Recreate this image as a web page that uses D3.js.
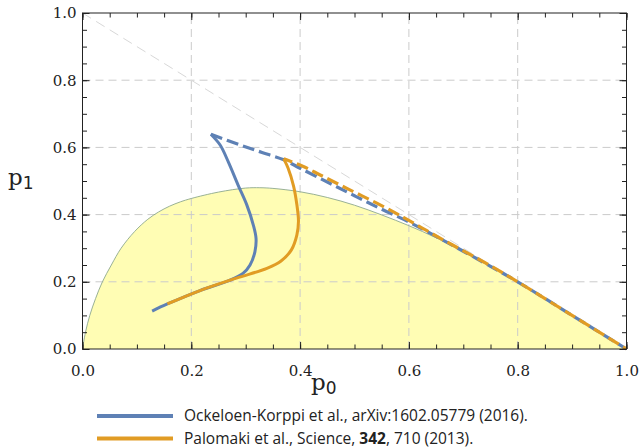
<!DOCTYPE html>
<html><head><meta charset="utf-8">
<script src="https://cdn.jsdelivr.net/npm/d3@7"></script>
<style>body{margin:0;background:#fff}svg{display:block}</style>
</head><body>
<svg id="c" width="642" height="448"></svg>
<script>
// ---- data ----
const xTicks = [0, 0.2, 0.4, 0.6, 0.8, 1.0];
const yTicks = [0, 0.2, 0.4, 0.6, 0.8, 1.0];
const gridVals = [0.2, 0.4, 0.6, 0.8];
// boundary of shaded (yellow) region
const boundaryP0 = [0, 0.0055, 0.0134, 0.024, 0.0366, 0.053, 0.071, 0.096, 0.12, 0.14, 0.16, 0.18, 0.2, 0.25, 0.3, 0.326, 0.35, 0.4, 0.45, 0.5, 0.55, 0.6, 0.65, 0.7, 0.75, 0.8, 0.9, 1.0];
const boundaryP1 = [0, 0.05, 0.1, 0.15, 0.2, 0.25, 0.3, 0.35, 0.386, 0.408, 0.425, 0.438, 0.448, 0.467, 0.479, 0.48, 0.478, 0.468, 0.451, 0.428, 0.399, 0.367, 0.331, 0.289, 0.245, 0.2, 0.1, 0];
// diagonal p0 + p1 = 1
const diagP0 = [0, 1];
const diagP1 = [1, 0];
// Ockeloen-Korppi et al. (blue)
const blueSolidP0 = [0.128, 0.156, 0.216, 0.27, 0.295, 0.308, 0.317, 0.319, 0.314, 0.302, 0.286, 0.268, 0.253, 0.236];
const blueSolidP1 = [0.113, 0.134, 0.174, 0.204, 0.225, 0.25, 0.29, 0.329, 0.369, 0.429, 0.488, 0.557, 0.607, 0.639];
const blueDashP0 = [0.236, 0.29, 0.33, 0.37, 0.4, 0.45, 0.5, 0.55, 0.6, 0.65, 0.7, 0.75, 0.8, 0.9, 1.0];
const blueDashP1 = [0.639, 0.607, 0.585, 0.563, 0.538, 0.497, 0.456, 0.416, 0.378, 0.335, 0.291, 0.246, 0.2, 0.1, 0];
// Palomaki et al. (orange)
const orangeSolidP0 = [0.156, 0.216, 0.283, 0.339, 0.365, 0.384, 0.394, 0.397, 0.394, 0.388, 0.378, 0.370];
const orangeSolidP1 = [0.134, 0.174, 0.211, 0.240, 0.262, 0.295, 0.339, 0.38, 0.43, 0.485, 0.538, 0.566];
const orangeDashP0 = [0.370, 0.406, 0.437, 0.486, 0.541, 0.590, 0.633, 0.682, 0.75, 0.8, 0.9, 1.0];
const orangeDashP1 = [0.566, 0.543, 0.518, 0.478, 0.434, 0.392, 0.352, 0.308, 0.248, 0.2, 0.1, 0];
const legendLabels = ["Ockeloen-Korppi et al., arXiv:1602.05779 (2016).", "Palomaki et al., Science, |342|, 710 (2013)."];

// ---- drawing ----
const blue = "#5e81b5", orange = "#e19c24";
const svg = d3.select("#c");
const L = 82.5, R = 626.5, T = 13, B = 349;
const x = d3.scaleLinear([0, 1], [L, R]);
const y = d3.scaleLinear([0, 1], [B, T]);
const zip = (a, b) => a.map((v, i) => [v, b[i]]);
const line = d3.line().x(d => x(d[0])).y(d => y(d[1]));
const smooth = d3.line().x(d => x(d[0])).y(d => y(d[1])).curve(d3.curveCatmullRom.alpha(0.5));

// shaded region
const bnd = zip(boundaryP0, boundaryP1);
svg.append("path").attr("d", smooth(bnd) + "Z").attr("fill", "#fffdb4").attr("stroke", "none");

// grid
const g = svg.append("g");
gridVals.forEach(v => {
  g.append("line").attr("x1", x(v)).attr("x2", x(v)).attr("y1", y(0)).attr("y2", y(1))
    .attr("stroke", "#cbcbcb").attr("stroke-width", 1).attr("stroke-dasharray", "8,5");
  g.append("line").attr("x1", x(0)).attr("x2", x(1)).attr("y1", y(v)).attr("y2", y(v))
    .attr("stroke", "#cbcbcb").attr("stroke-width", 1).attr("stroke-dasharray", "8,5");
});
// diagonal
svg.append("path").attr("d", line(zip(diagP0, diagP1))).attr("fill", "none")
  .attr("stroke", "#d8d8d8").attr("stroke-width", 1).attr("stroke-dasharray", "10,6");
// boundary stroke (curved part only)
svg.append("path").attr("d", smooth(bnd.filter(d => d[0] <= 0.8))).attr("fill", "none")
  .attr("stroke", "#8da88d").attr("stroke-width", 0.9);

// curves
svg.append("path").attr("d", smooth(zip(blueDashP0, blueDashP1))).attr("fill", "none")
  .attr("stroke", blue).attr("stroke-width", 3.2).attr("stroke-dasharray", "12,5");
svg.append("path").attr("d", smooth(zip(blueSolidP0, blueSolidP1))).attr("fill", "none")
  .attr("stroke", blue).attr("stroke-width", 3).attr("stroke-linejoin", "round");
svg.append("path").attr("d", smooth(zip(orangeDashP0, orangeDashP1))).attr("fill", "none")
  .attr("stroke", orange).attr("stroke-width", 3.2).attr("stroke-dasharray", "12,5").attr("stroke-dashoffset", 3);
svg.append("path").attr("d", smooth(zip(orangeSolidP0, orangeSolidP1))).attr("fill", "none")
  .attr("stroke", orange).attr("stroke-width", 3).attr("stroke-linejoin", "round");

// axes
const minor = d3.range(0, 1.0001, 0.05).map(v => +v.toFixed(2));
const fmt = d3.format(".1f");
const tickFont = "DejaVu Serif, serif";
function styleAxis(sel) {
  sel.select(".domain").remove();
  sel.selectAll("line").attr("stroke", "#222").attr("stroke-width", 1);
  sel.selectAll("text").attr("font-family", tickFont).attr("font-size", 15).attr("fill", "#222");
}
svg.append("g").attr("transform", `translate(0,${B})`)
  .call(d3.axisBottom(x).tickValues(xTicks).tickFormat(fmt).tickSizeInner(-7).tickSizeOuter(0).tickPadding(16)).call(styleAxis);
svg.append("g").attr("transform", `translate(0,${B})`)
  .call(d3.axisBottom(x).tickValues(minor).tickFormat("").tickSizeInner(-4.5).tickSizeOuter(0)).call(styleAxis);
svg.append("g").attr("transform", `translate(0,${T})`)
  .call(d3.axisTop(x).tickValues(xTicks).tickFormat("").tickSizeInner(-7).tickSizeOuter(0)).call(styleAxis);
svg.append("g").attr("transform", `translate(0,${T})`)
  .call(d3.axisTop(x).tickValues(minor).tickFormat("").tickSizeInner(-4.5).tickSizeOuter(0)).call(styleAxis);
svg.append("g").attr("transform", `translate(${L},0)`)
  .call(d3.axisLeft(y).tickValues(yTicks).tickFormat(fmt).tickSizeInner(-7).tickSizeOuter(0).tickPadding(6)).call(styleAxis);
svg.append("g").attr("transform", `translate(${L},0)`)
  .call(d3.axisLeft(y).tickValues(minor).tickFormat("").tickSizeInner(-4.5).tickSizeOuter(0)).call(styleAxis);
svg.append("g").attr("transform", `translate(${R},0)`)
  .call(d3.axisRight(y).tickValues(yTicks).tickFormat("").tickSizeInner(-7).tickSizeOuter(0)).call(styleAxis);
svg.append("g").attr("transform", `translate(${R},0)`)
  .call(d3.axisRight(y).tickValues(minor).tickFormat("").tickSizeInner(-4.5).tickSizeOuter(0)).call(styleAxis);
// frame
svg.append("rect").attr("x", L).attr("y", T).attr("width", R - L).attr("height", B - T)
  .attr("fill", "none").attr("stroke", "#222").attr("stroke-width", 1);

// axis labels
function axLabel(xp, yp, sub) {
  const t = svg.append("text").attr("x", xp).attr("y", yp).attr("fill", "#222");
  t.append("tspan").attr("font-family", "DejaVu Serif, serif").attr("font-size", 23).text("p");
  t.append("tspan").attr("font-family", "DejaVu Sans, sans-serif").attr("font-size", 17).attr("dy", 4).text(sub);
}
axLabel(311, 390, "0");
axLabel(8, 185, "1");

// legend
const legY = [416, 438.5];
const legColors = [blue, orange];
legendLabels.forEach((lab, i) => {
  svg.append("line").attr("x1", 97).attr("x2", 173).attr("y1", legY[i]).attr("y2", legY[i])
    .attr("stroke", legColors[i]).attr("stroke-width", 4);
  const t = svg.append("text").attr("x", 184).attr("y", legY[i] + 5).attr("font-family", "Open Sans, sans-serif")
    .attr("font-size", 15.5).attr("fill", "#222");
  lab.split("|").forEach((part, k) => {
    t.append("tspan").attr("font-weight", k % 2 ? "bold" : "normal").text(part);
  });
});
</script>
</body></html>
